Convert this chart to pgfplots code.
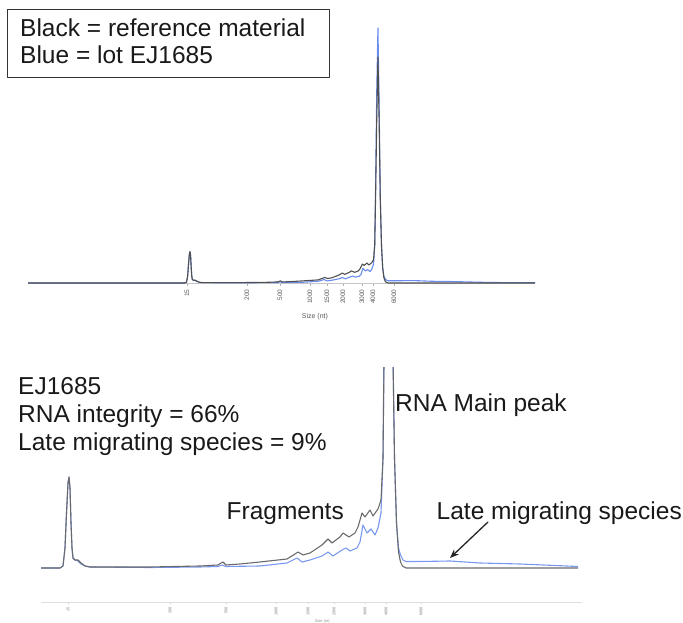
\documentclass[border=0pt]{standalone}
\usepackage{fontspec}
\setmainfont{Liberation Sans}
\usepackage{pgfplots}
\pgfplotsset{compat=1.18}
\usepackage{pgfplotstable}
\usetikzlibrary{arrows.meta}
\definecolor{refgray}{RGB}{80,80,80}
\definecolor{lotblue}{RGB}{105,140,238}

% migration position (x) and fluorescence (y), same run in both panels
\pgfplotstableread{
x y
-206.4 0
41 0
60 0
63 2
65 20
66.5 55
68 85
69 91
70 80
71 45
72 20
73 10
75 8
78 8
81 5
85 2
90 1
150 1
200 2
218 3
221 5
223 6
226 3
240 4
260 6
287 9
295 14
298 16
303 13
310 15
322 23
328 29
332 25
340 31
343 35
349 31
355 35
358 41
362 55
365 51
370 58
373 52
378 59
381 68
383 110
384.5 250
386.5 480
388.5 655
390.5 470
392.5 240
394.5 110
396.5 45
398.5 16
400.5 6
402.5 2
406 0
578 0
655.5 0
}\blackdata

\pgfplotstableread{
x y
-206.4 0
41 0
60 0
63 2
65 20
66.5 55
68 85
69 91
70 80
71 45
72 20
73 10
75 8
78 7
81 4
85 2
90 1
150 0.5
200 1
218 1.5
222 3
226 1.5
260 2
287 5
297 10
302 6
310 8
322 12
328 16
333 12
342 18
346 20
350 17
357 20
360 26
363 43
367 35
371 39
375 33
378 40
381 55
383 110
384.5 280
386.5 560
388.5 740
390.5 520
392.5 250
394.5 110
396.5 45
398.5 20
400.5 13
403 8
406 6.5
420 6.5
450 7
480 5
520 4
578 1.5
620 1
655.5 1
}\bluedata

\begin{document}
\begin{tikzpicture}[line join=round, line cap=round]
\useasboundingbox (0,0) rectangle (683pt,623pt);

% upper panel: full trace
\begin{axis}[
  at={(28pt,340pt)}, anchor=south west,
  scale only axis, width=507pt, height=263pt,
  xmin=-206.4, xmax=655.5, ymin=0, ymax=763,
  axis x line=bottom, axis y line=none,
  x axis line style={-, draw=gray!45},
  clip=false,
  xtick={63.9,165.9,222,273,301.9,329.1,361.4,380.1,415.8},
  xticklabels={15,200,500,1000,1500,2000,3000,4000,6000},
  tick align=outside, major tick length=3pt,
  xtick style={draw=gray!60, thin},
  xticklabel style={rotate=90, anchor=east, font=\fontsize{6.5}{7}\selectfont, text=black!65},
  /pgf/number format/assume math mode=true,
  xlabel={Size (nt)},
  xlabel style={at={(axis description cs:0.566,0)}, anchor=center, yshift=-34pt,
    font=\fontsize{7}{8}\selectfont, text=black!65},
]
\addplot[lotblue, line width=1.1pt] table {\bluedata};
\addplot[refgray, line width=1.1pt] table {\blackdata};
\end{axis}

% lower panel: zoom on the baseline
\begin{axis}[
  at={(41pt,21pt)}, anchor=south west,
  scale only axis, width=541pt, height=234pt,
  xmin=41, xmax=582, ymin=-34, ymax=200,
  axis x line=bottom, axis y line=none,
  x axis line style={-, draw=gray!25},
  xtick={68,170,226,276,308,334,365,386,421},
  xticklabels={15,200,500,1000,1500,2000,3000,4000,6000},
  tick align=outside, major tick length=2pt,
  xtick style={draw=gray!40, thin},
  xticklabel style={rotate=90, anchor=east, font=\fontsize{3.8}{4}\selectfont, text=black!55},
  /pgf/number format/assume math mode=true,
  xlabel={Size (nt)},
  xlabel style={at={(axis description cs:0.52,0)}, anchor=center, yshift=-19pt,
    font=\fontsize{4}{5}\selectfont, text=black!45},
]
\addplot[lotblue!90, line width=1.1pt, restrict x to domain=41:578] table {\bluedata};
\addplot[refgray!85, line width=1.1pt, restrict x to domain=41:578] table {\blackdata};
\end{axis}

\draw[black!80, line width=0.9pt] (7pt,546pt) rectangle (329pt,614pt);
\begin{scope}[every node/.style={inner sep=0pt, anchor=base west, text=black!90,
    font=\fontsize{24.5}{28}\selectfont}]
\node at (20pt,586.3pt) {Black = reference material};
\node at (20pt,559pt) {Blue = lot EJ1685};
\node at (18pt,228pt) {EJ1685};
\node at (18pt,200pt) {RNA integrity = 66\%};
\node at (18pt,172pt) {Late migrating species = 9\%};
\node at (395pt,211pt) {RNA Main peak};
\node at (226.5pt,103.5pt) {Fragments};
\node at (436.5pt,103.5pt) {Late migrating species};
\end{scope}
\draw[black!85, line width=1.3pt, -{Stealth[length=9pt, width=7pt]}] (488pt,101pt) -- (450pt,65pt);
\end{tikzpicture}
\end{document}
